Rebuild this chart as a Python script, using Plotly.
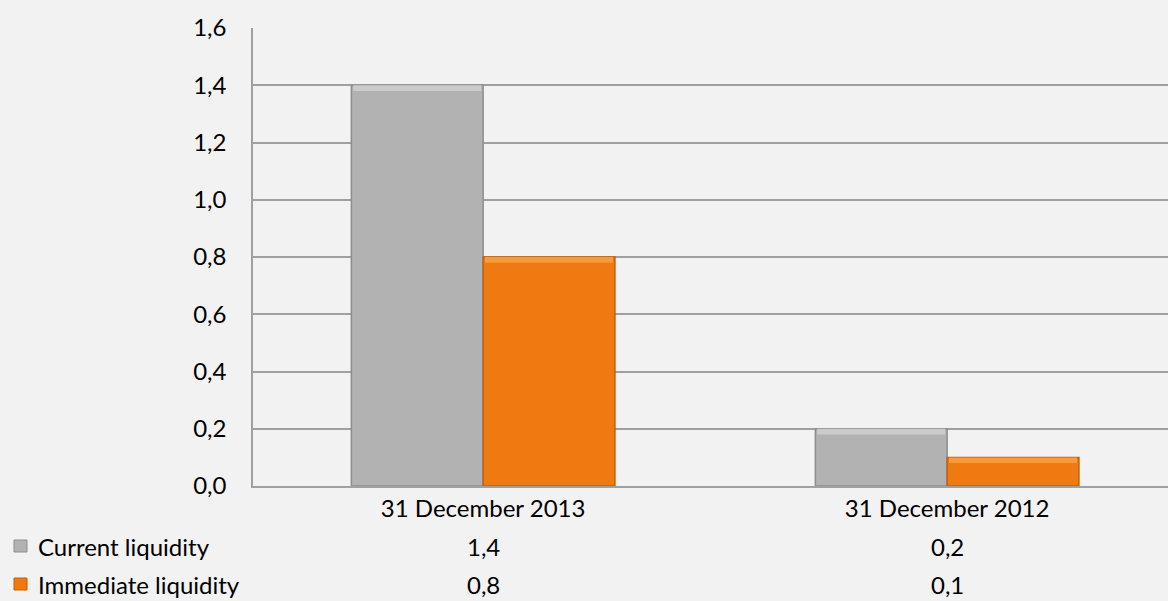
import plotly.graph_objects as go

categories = ["31 December 2013", "31 December 2012"]
current_liquidity = [1.4, 0.2]
immediate_liquidity = [0.8, 0.1]
series_names = ["Current liquidity", "Immediate liquidity"]
y_ticks = [0.0, 0.2, 0.4, 0.6, 0.8, 1.0, 1.2, 1.4, 1.6]

GRAY = "#B2B2B2"
GRAY_EDGE = "#8E8E8E"
GRAY_TOP = "#CBCBCB"
ORANGE = "#F07A12"
ORANGE_EDGE = "#C0600C"
ORANGE_TOP = "#F69A3C"
BG = "#F2F2F2"
FONT = "Lato, Open Sans, sans-serif"
FS = 24

PLOT_L, PLOT_R, PLOT_T, PLOT_B = 253, 1168, 28, 486
PW = PLOT_R - PLOT_L
PH = PLOT_B - PLOT_T

xpos = list(range(len(categories)))
bw = 0.284
hl = 0.02  # top bevel height in data units

fig = go.Figure()
series = [(current_liquidity, GRAY, GRAY_EDGE, GRAY_TOP, -bw),
          (immediate_liquidity, ORANGE, ORANGE_EDGE, ORANGE_TOP, 0.0)]
for vals, col, edge, top, off in series:
    fig.add_trace(go.Bar(
        x=xpos, y=vals, width=bw, offset=off,
        marker=dict(color=col, line=dict(color=edge, width=1.5)),
        showlegend=False, hoverinfo="skip",
    ))
    fig.add_trace(go.Bar(
        x=xpos, y=[hl] * len(vals), base=[v - hl for v in vals],
        width=bw - 0.008, offset=off + 0.004,
        marker=dict(color=top, line=dict(width=0)),
        showlegend=False, hoverinfo="skip",
    ))

row_y = [(PLOT_B - 546) / PH, (PLOT_B - 584) / PH]
annotations = []
shapes = []
all_vals = [current_liquidity, immediate_liquidity]
for r in range(2):
    for xi, v in zip(xpos, all_vals[r]):
        annotations.append(dict(
            x=xi, y=row_y[r], xref="x", yref="paper",
            text=f"{v:.1f}".replace(".", ","),
            showarrow=False, font=dict(family=FONT, size=FS, color="#000000"),
            xanchor="center", yanchor="middle",
        ))
    annotations.append(dict(
        x=(36 - PLOT_L) / PW, y=row_y[r], xref="paper", yref="paper",
        text=series_names[r], showarrow=False,
        font=dict(family=FONT, size=FS, color="#000000"),
        xanchor="left", yanchor="middle",
    ))
    col, edge = series[r][1], series[r][2]
    h = 12 / PH
    shapes.append(dict(type="rect", xref="paper", yref="paper",
                       x0=(14 - PLOT_L) / PW, x1=(27 - PLOT_L) / PW,
                       y0=row_y[r] - h / 2, y1=row_y[r] + h / 2,
                       fillcolor=col, line=dict(color=edge, width=1)))

fig.update_layout(
    width=1168, height=601,
    margin=dict(l=PLOT_L, r=1168 - PLOT_R, t=PLOT_T, b=601 - PLOT_B),
    paper_bgcolor=BG, plot_bgcolor=BG,
    separators=",.",
    barmode="overlay",
    font=dict(family=FONT, size=FS, color="#000000"),
    annotations=annotations,
    shapes=shapes,
)
fig.update_xaxes(
    range=[-0.496, 1.476], tickvals=xpos, ticktext=categories,
    showgrid=False, showline=True, linecolor="#A0A0A0", linewidth=1.5,
    ticks="", ticklabelstandoff=0, zeroline=False,
    tickfont=dict(family=FONT, size=FS, color="#000000"),
)
fig.update_yaxes(
    range=[0, 1.6], tickvals=y_ticks, tickformat=".1f",
    showgrid=True, gridcolor="#A0A0A0", gridwidth=1.5,
    showline=True, linecolor="#A0A0A0", linewidth=1.5,
    zeroline=False, ticks="", ticklabelstandoff=20,
    tickfont=dict(family=FONT, size=FS, color="#000000"),
)

fig.write_html("out.html")
